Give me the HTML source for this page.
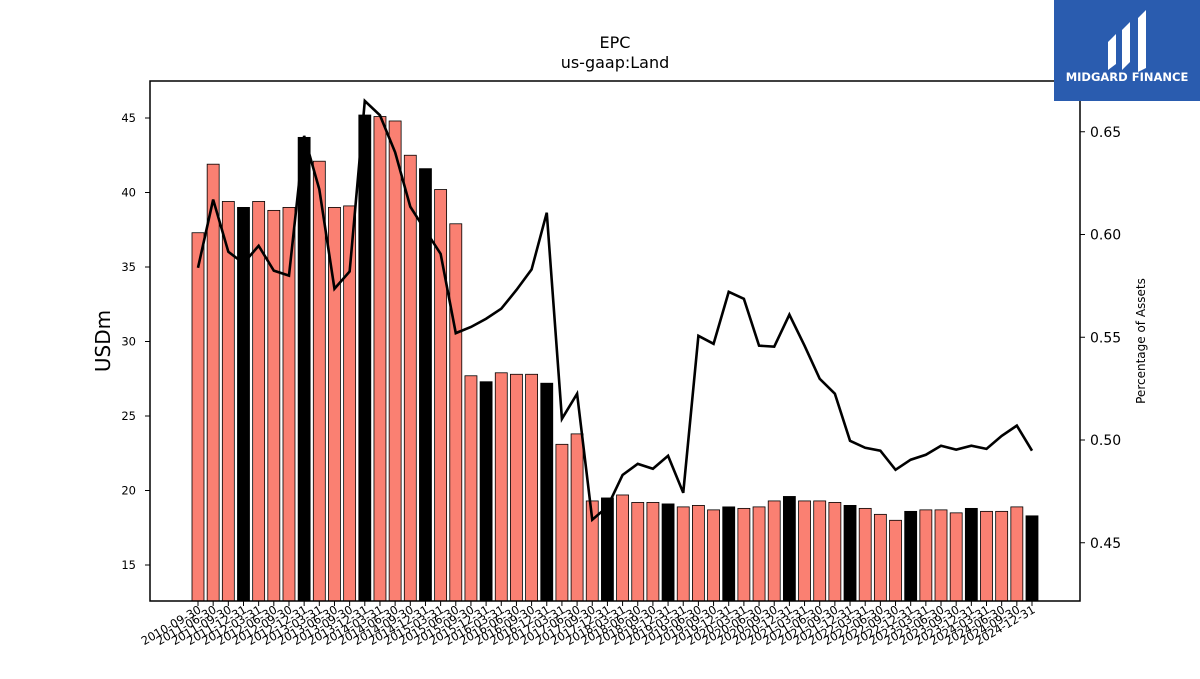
<!DOCTYPE html>
<html><head><meta charset="utf-8"><style>
body{margin:0;background:#fff;width:1200px;height:675px;overflow:hidden;font-family:"DejaVu Sans","Liberation Sans",sans-serif}
</style></head><body>
<svg id="c" width="1200" height="675" xmlns="http://www.w3.org/2000/svg">
<text x="615" y="48" text-anchor="middle" font-size="16">EPC</text>
<text x="615" y="68" text-anchor="middle" font-size="16">us-gaap:Land</text>
<g id="bars"></g><g id="xt"></g><g id="yl"></g><g id="yr"></g>
<path id="line" fill="none" stroke="#000" stroke-width="2.6"/>
<rect x="150" y="81" width="930" height="520" fill="none" stroke="#000" stroke-width="1.5"/>
<text transform="translate(110,341) rotate(-90)" text-anchor="middle" font-size="20">USDm</text>
<text transform="translate(1145,341) rotate(-90)" text-anchor="middle" font-size="12">Percentage of Assets</text>
<g>
<rect x="1054" y="0" width="146" height="101" fill="#2a5caf"/>
<path d="M1108 42 l8 -8 v30 l-8 6z M1122 30 l8 -8 v40 l-8 8z M1138 18 l8 -8 v58 l-8 4z" fill="#fff"/>
<text x="1127" y="81" text-anchor="middle" font-size="11.5" font-weight="bold" fill="#fff">MIDGARD FINANCE</text>
</g>
</svg>
<script>
const dates=["2010-09-30","2011-06-30","2011-09-30","2011-12-31","2012-03-31","2012-06-30","2012-09-30","2012-12-31","2013-03-31","2013-06-30","2013-09-30","2013-12-31","2014-03-31","2014-06-30","2014-09-30","2014-12-31","2015-03-31","2015-06-30","2015-09-30","2015-12-31","2016-03-31","2016-06-30","2016-09-30","2016-12-31","2017-03-31","2017-06-30","2017-09-30","2017-12-31","2018-03-31","2018-06-30","2018-09-30","2018-12-31","2019-03-31","2019-06-30","2019-09-30","2019-12-31","2020-03-31","2020-06-30","2020-09-30","2020-12-31","2021-03-31","2021-06-30","2021-09-30","2021-12-31","2022-03-31","2022-06-30","2022-09-30","2022-12-31","2023-03-31","2023-06-30","2023-09-30","2023-12-31","2024-03-31","2024-06-30","2024-09-30","2024-12-31"];
const land=[37.3,41.9,39.4,39.0,39.4,38.8,39.0,43.7,42.1,39.0,39.1,45.2,45.1,44.8,42.5,41.6,40.2,37.9,27.7,27.3,27.9,27.8,27.8,27.2,23.1,23.8,19.3,19.5,19.7,19.2,19.2,19.1,18.9,19.0,18.7,18.9,18.8,18.9,19.3,19.6,19.3,19.3,19.2,19.0,18.8,18.4,18.0,18.6,18.7,18.7,18.5,18.8,18.6,18.6,18.9,18.3];
const pct=[0.5838,0.617,0.5916,0.586,0.5945,0.5824,0.580,0.648,0.622,0.5736,0.582,0.665,0.658,0.640,0.6135,0.602,0.5906,0.552,0.555,0.559,0.5639,0.573,0.583,0.6106,0.5103,0.5225,0.4612,0.4675,0.483,0.4884,0.486,0.4923,0.4743,0.5507,0.5468,0.5721,0.5687,0.5459,0.5454,0.561,0.5459,0.5298,0.5225,0.4996,0.4962,0.4948,0.4855,0.4904,0.4928,0.4972,0.4953,0.4972,0.4957,0.502,0.507,0.4948];
const leftTicks=[15,20,25,30,35,40,45];
const rightTicks=[0.45,0.50,0.55,0.60,0.65];
const NS="http://www.w3.org/2000/svg";
const yL=v=>565-(v-15)*(447/30);
const yR=v=>440-(v-0.5)*2055;
const xB=i=>198+i*(1032-198)/(dates.length-1);
function mk(t,a,p){const e=document.createElementNS(NS,t);for(const k in a)e.setAttribute(k,a[k]);p.appendChild(e);return e;}
const bars=document.getElementById('bars'),xt=document.getElementById('xt');
land.forEach((v,i)=>{
 const black=dates[i].endsWith('12-31');
 const r=mk('rect',{x:xB(i)-6,y:yL(v),width:12,height:601-yL(v),fill:black?'#000':'#fa8072',stroke:'#000','stroke-width':0.8},bars);
 
 
 mk('line',{x1:xB(i),x2:xB(i),y1:601,y2:606,stroke:'#000'},xt);
 const t=mk('text',{transform:`translate(${xB(i)+4},612) rotate(-30)`,'text-anchor':'end','font-size':11.5},xt);
 t.textContent=dates[i];
 
 
});
const yl=document.getElementById('yl');
leftTicks.forEach(v=>{mk('line',{x1:145,x2:150,y1:yL(v),y2:yL(v),stroke:'#000'},yl);
 const t=mk('text',{x:136,y:yL(v)+4,'text-anchor':'end','font-size':11.5},yl);t.textContent=v;
 
 });
const yr=document.getElementById('yr');
rightTicks.forEach(v=>{mk('line',{x1:1080,x2:1085,y1:yR(v),y2:yR(v),stroke:'#000'},yr);
 const t=mk('text',{x:1090,y:yR(v)+5,'font-size':14},yr);t.textContent=v.toFixed(2);
 
 });
document.getElementById('line').setAttribute('d',pct.map((v,i)=>(i?'L':'M')+xB(i)+' '+yR(v)).join(' '));
</script>
</body></html>
